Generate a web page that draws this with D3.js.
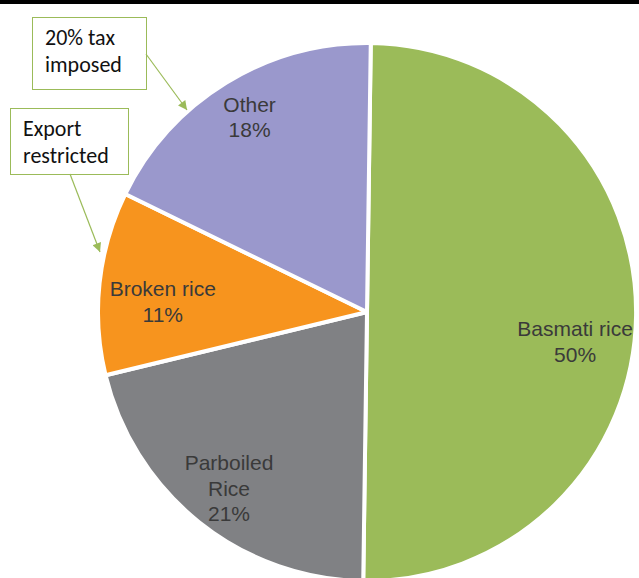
<!DOCTYPE html>
<html>
<head>
<meta charset="utf-8">
<script src="https://cdn.jsdelivr.net/npm/d3@7"></script>
<style>
  html, body { margin: 0; padding: 0; background: #fff; }
  svg { display: block; }
  .slice { font-family: "Liberation Sans", Arial, sans-serif; }
  .callout { font-family: Carlito, Calibri, "Open Sans", sans-serif; }
</style>
</head>
<body>
<div id="chart"></div>
<script>
// rice export shares
const categories = ["Basmati rice", "Parboiled Rice", "Broken rice", "Other"];
const shares = [50, 21, 11, 18];
const labelLines = [["Basmati rice"], ["Parboiled", "Rice"], ["Broken rice"], ["Other"]];
const colors = ["#9bbb59", "#808184", "#f7941e", "#9a98cc"];

// callouts: text lines and the category they point at
const callouts = [
    { lines: ["20% tax", "imposed"], target: "Other" },
    { lines: ["Export", "restricted"], target: "Broken rice" }
];

const width = 639;
const height = 578;
const cx = 367, cy = 312, radius = 269;

const svg = d3.select("#chart")
    .append("svg")
    .attr("width", width)
    .attr("height", height);

svg.append("rect")
    .attr("x", 0).attr("y", 0)
    .attr("width", width).attr("height", 4)
    .attr("fill", "#000");

const data = categories.map((c, i) => ({ name: c, value: shares[i], lines: labelLines[i], color: colors[i] }));

const pie = d3.pie()
    .value(d => d.value)
    .sort(null)
    .startAngle(0.014)
    .endAngle(0.014 + 2 * Math.PI);

const arc = d3.arc().innerRadius(0).outerRadius(radius);
const arcs = pie(data);

const g = svg.append("g").attr("transform", `translate(${cx},${cy})`);

g.selectAll("path")
    .data(arcs)
    .enter().append("path")
    .attr("d", arc)
    .attr("fill", d => d.data.color)
    .attr("stroke", "#fff")
    .attr("stroke-width", 4)
    .attr("stroke-linejoin", "round");

// label distance as a fraction of the radius, plus a small nudge, per slice
const labelLayout = {
    "Basmati rice": { f: 0.77, dx: 1, dy: 27 },
    "Parboiled Rice": { f: 0.84, dx: 3, dy: 0 },
    "Broken rice": { f: 0.76, dx: -1, dy: 12 },
    "Other": { f: 0.84, dx: 1, dy: -2 }
};
const lineH = 25.5;

g.selectAll("text.slice")
    .data(arcs)
    .enter().append("text")
    .attr("class", "slice")
    .attr("font-size", 21)
    .attr("fill", "#3a3a3a")
    .attr("text-anchor", "middle")
    .each(function(d) {
        const L = labelLayout[d.data.name];
        const [x, y] = d3.arc().innerRadius(radius * L.f).outerRadius(radius * L.f).centroid(d);
        const lines = d.data.lines.concat([d.data.value + "%"]);
        const top = y + L.dy - (lines.length - 1) * lineH / 2 + 7;
        lines.forEach((t, i) => {
            d3.select(this).append("tspan")
                .attr("x", x + L.dx)
                .attr("y", top + i * lineH)
                .text(t);
        });
    });

// callout boxes with arrows
const boxes = [
    { x: 32, y: 17, w: 114, h: 72, from: [146, 54], to: [187, 110] },
    { x: 10, y: 108, w: 118, h: 66, from: [70, 174], to: [100, 252] }
];

const defs = svg.append("defs");
defs.append("marker")
    .attr("id", "arrow")
    .attr("viewBox", "0 0 10 10")
    .attr("refX", 10).attr("refY", 5)
    .attr("markerWidth", 11).attr("markerHeight", 9)
    .attr("markerUnits", "userSpaceOnUse")
    .attr("orient", "auto")
    .append("path")
    .attr("d", "M0,0 L10,5 L0,10 Z")
    .attr("fill", "#9bbb59");

callouts.forEach((c, i) => {
    const b = boxes[i];
    svg.append("rect")
        .attr("x", b.x + 0.5).attr("y", b.y + 0.5)
        .attr("width", b.w).attr("height", b.h)
        .attr("fill", "#fff")
        .attr("stroke", "#9bbb59")
        .attr("stroke-width", 1);
    svg.append("line")
        .attr("x1", b.from[0]).attr("y1", b.from[1])
        .attr("x2", b.to[0]).attr("y2", b.to[1])
        .attr("stroke", "#9bbb59")
        .attr("stroke-width", 1.2)
        .attr("marker-end", "url(#arrow)");
    const t = svg.append("text")
        .attr("class", "callout")
        .attr("font-size", 22)
        .attr("fill", "#111");
    c.lines.forEach((s, k) => {
        t.append("tspan")
            .attr("x", b.x + 13)
            .attr("y", b.y + 28 + k * 27)
            .text(s);
    });
});
</script>
</body>
</html>
